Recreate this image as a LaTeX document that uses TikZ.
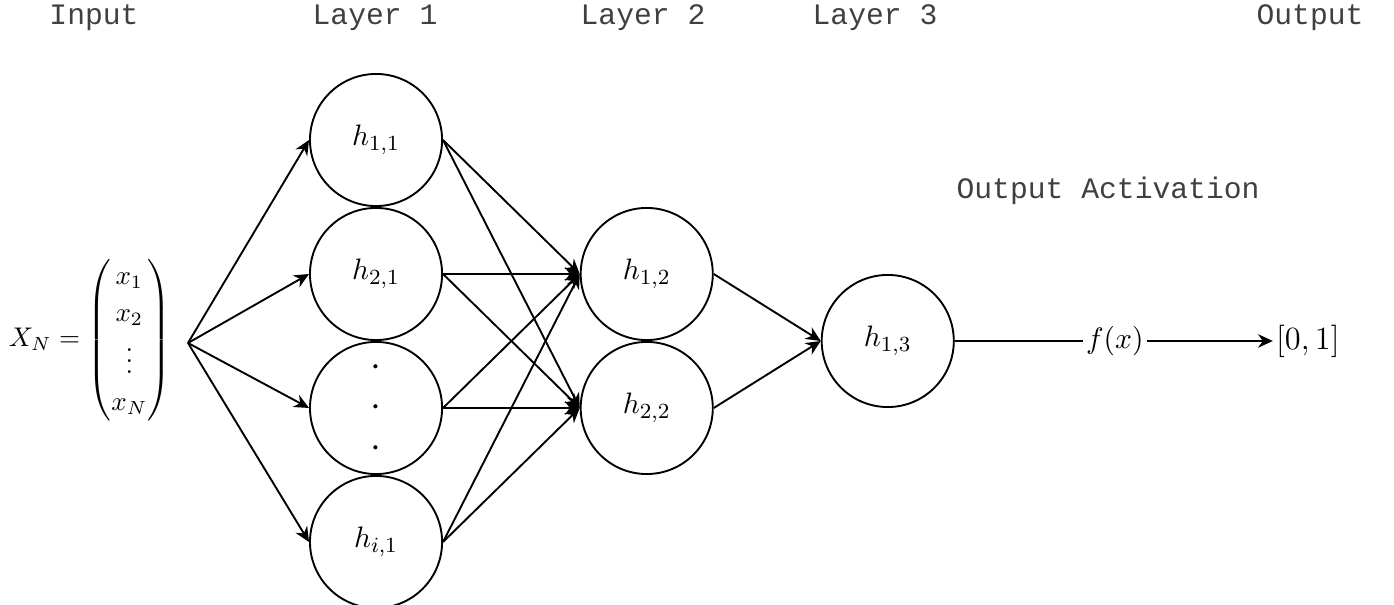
\documentclass[tikz,border=0pt]{standalone}
\usepackage{amsmath}
\usepackage{fontspec}
\newfontfamily\layerfont{Liberation Mono}
\usetikzlibrary{arrows.meta, positioning, calc}

\begin{document}
\begin{tikzpicture}[
    >={Stealth[length=5.5pt,width=5pt]},
    neuron/.style={
      circle,
      draw,
      line width=0.7pt,
      minimum size=1.72cm,
      inner sep=0pt,
      align=center,
      font=\fontsize{10.95}{13.6}\selectfont
    },
    title/.style={font=\layerfont\fontsize{11}{13}\selectfont, text=black!75},
    link/.style={->, line width=0.7pt}
]
\useasboundingbox (0,0) rectangle (18.15,-7.865);

% Column titles
\node[title] (tinput)  at (1.224,-0.235)  {Input};
\node[title] (tlayer1) at (4.883,-0.235)  {Layer 1};
\node[title] (tlayer2) at (8.372,-0.235)  {Layer 2};
\node[title] (tlayer3) at (11.393,-0.235) {Layer 3};
\node[title] (toutput) at (17.057,-0.235) {Output};
\node[title] (tact)    at (14.427,-2.48)  {Output Activation};

% Input vector
\node (input) at (1.17,-4.427)
  {\renewcommand\arraystretch{1.15}$X_N = \begin{pmatrix} x_1\\ x_2\\ \vdots\\ x_N \end{pmatrix}$};
\coordinate (xin) at (2.448,-4.466);

% Layer 1
\node[neuron] (h11) at (4.896,-1.823) {$h_{1,1}$};
\node[neuron, below=0pt of h11] (h21) {$h_{2,1}$};
\node[neuron, below=0pt of h21, font=\fontsize{14}{16}\selectfont] (hdots) {$\cdot$\\[-1pt]$\cdot$\\[-1pt]$\cdot$};
\node[neuron, below=0pt of hdots] (hi1) {$h_{i,1}$};

% Layer 2
\node[neuron, right=1.78cm of h21] (h12) {$h_{1,2}$};
\node[neuron, below=0pt of h12] (h22) {$h_{2,2}$};

% Layer 3
\node[neuron] (h13) at ($(h12.south)+(3.138,0)$) {$h_{1,3}$};

% Output
\node[inner sep=1pt, font=\fontsize{10.95}{13.6}\selectfont] (fx) at ($(h13)+(2.956,0)$) {$f(x)$};
\node[inner sep=1pt] (out) at ($(h13)+(5.47,0)$) {\large$[0,1]$};

% Input -> Layer 1
\draw[link] (xin) -- (h11.west);
\draw[link] (xin) -- (h21.west);
\draw[link] (xin) -- (hdots.west);
\draw[link] (xin) -- (hi1.west);

% Layer 1 -> Layer 2
\draw[link] (h11.east)   -- (h12.west);
\draw[link] (h11.east)   -- (h22.west);
\draw[link] (h21.east)   -- (h12.west);
\draw[link] (h21.east)   -- (h22.west);
\draw[link] (hdots.east) -- (h12.west);
\draw[link] (hdots.east) -- (h22.west);
\draw[link] (hi1.east)   -- (h12.west);
\draw[link] (hi1.east)   -- (h22.west);

% Layer 2 -> Layer 3
\draw[link] (h12.east) -- (h13.west);
\draw[link] (h22.east) -- (h13.west);

% Layer 3 -> Output
\draw[line width=0.7pt] (h13.east) -- (h13.east -| fx.west);
\draw[link] (h13.east -| fx.east) -- (h13.east -| out.west);

\end{tikzpicture}
\end{document}
